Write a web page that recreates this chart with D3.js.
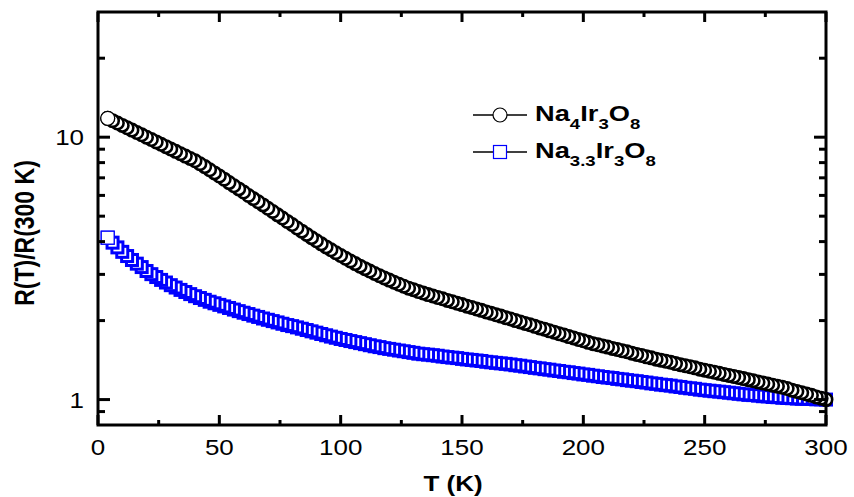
<!DOCTYPE html>
<html>
<head>
<meta charset="utf-8">
<script src="https://cdn.jsdelivr.net/npm/d3@7"></script>
<style>
  body { margin: 0; background: #fff; }
  text { font-family: "Liberation Sans", Arial, sans-serif; fill: #000; }
</style>
</head>
<body>
<div id="chart"></div>
<script>
// temperatures (K) of the read-off points
let temps = [4, 6, 8, 10, 12, 14, 16, 18, 20, 22, 24, 26, 28, 30, 32, 34, 36, 38, 40, 42,
  44, 46, 48, 50, 52, 54, 56, 58, 60, 62, 64, 66, 68, 70, 72, 74, 76, 78, 80, 82,
  84, 86, 88, 90, 92, 94, 96, 98, 100, 102, 104, 106, 108, 110, 112, 114, 116, 118, 120, 122,
  124, 126, 128, 130, 132, 134, 136, 138, 140, 142, 144, 146, 148, 150, 152, 154, 156, 158, 160, 162,
  164, 166, 168, 170, 172, 174, 176, 178, 180, 182, 184, 186, 188, 190, 192, 194, 196, 198, 200, 202,
  204, 206, 208, 210, 212, 214, 216, 218, 220, 222, 224, 226, 228, 230, 232, 234, 236, 238, 240, 242,
  244, 246, 248, 250, 252, 254, 256, 258, 260, 262, 264, 266, 268, 270, 272, 274, 276, 278, 280, 282,
  284, 286, 288, 290, 292, 294, 296, 298, 300];

// R(T)/R(300 K), Na4Ir3O8
let rNa4 = [11.80, 11.56, 11.32, 11.09, 10.86, 10.64, 10.42, 10.21, 10.00, 9.795, 9.594, 9.397, 9.204, 9.016, 8.831, 8.650, 8.472, 8.299, 8.128, 7.925,
  7.727, 7.516, 7.311, 7.112, 6.918, 6.714, 6.531, 6.353, 6.180, 5.998, 5.834, 5.675, 5.521, 5.358, 5.212, 5.058, 4.920, 4.775, 4.645, 4.508,
  4.385, 4.261, 4.142, 4.030, 3.922, 3.819, 3.722, 3.629, 3.540, 3.455, 3.375, 3.298, 3.225, 3.155, 3.089, 3.025, 2.965, 2.908, 2.853, 2.801,
  2.751, 2.704, 2.659, 2.624, 2.582, 2.547, 2.512, 2.483, 2.449, 2.421, 2.388, 2.360, 2.328, 2.301, 2.270, 2.244, 2.213, 2.188, 2.158, 2.133,
  2.104, 2.080, 2.051, 2.028, 2.000, 1.977, 1.950, 1.928, 1.901, 1.875, 1.854, 1.828, 1.807, 1.782, 1.762, 1.738, 1.718, 1.694, 1.675, 1.652,
  1.633, 1.618, 1.600, 1.585, 1.567, 1.552, 1.535, 1.521, 1.503, 1.486, 1.472, 1.455, 1.442, 1.426, 1.413, 1.400, 1.387, 1.371, 1.358, 1.346,
  1.334, 1.321, 1.306, 1.294, 1.282, 1.271, 1.259, 1.247, 1.236, 1.225, 1.213, 1.202, 1.191, 1.180, 1.167, 1.156, 1.146, 1.135, 1.125, 1.114,
  1.102, 1.086, 1.074, 1.062, 1.050, 1.038, 1.023, 1.012, 1.000];

// R(T)/R(300 K), Na3.3Ir3O8
let rNa33 = [4.140, 3.963, 3.802, 3.656, 3.524, 3.404, 3.296, 3.199, 3.090, 3.006, 2.931, 2.858, 2.793, 2.729, 2.673, 2.618, 2.570, 2.523, 2.477, 2.438,
  2.399, 2.360, 2.328, 2.296, 2.265, 2.234, 2.203, 2.173, 2.143, 2.118, 2.089, 2.065, 2.037, 2.014, 1.991, 1.968, 1.945, 1.923, 1.905, 1.884,
  1.862, 1.841, 1.820, 1.799, 1.778, 1.758, 1.738, 1.720, 1.702, 1.687, 1.671, 1.656, 1.641, 1.626, 1.611, 1.596, 1.585, 1.570, 1.560, 1.549,
  1.538, 1.528, 1.517, 1.507, 1.496, 1.489, 1.483, 1.476, 1.469, 1.459, 1.452, 1.445, 1.439, 1.429, 1.422, 1.416, 1.409, 1.403, 1.393, 1.387,
  1.380, 1.374, 1.368, 1.361, 1.352, 1.346, 1.337, 1.330, 1.321, 1.315, 1.306, 1.300, 1.291, 1.285, 1.276, 1.271, 1.262, 1.256, 1.247, 1.242,
  1.233, 1.227, 1.219, 1.213, 1.208, 1.199, 1.194, 1.186, 1.180, 1.175, 1.167, 1.161, 1.153, 1.148, 1.140, 1.135, 1.130, 1.122, 1.117, 1.109,
  1.104, 1.099, 1.091, 1.086, 1.081, 1.076, 1.072, 1.067, 1.062, 1.057, 1.052, 1.047, 1.042, 1.040, 1.035, 1.030, 1.028, 1.023, 1.021, 1.016,
  1.014, 1.012, 1.009, 1.007, 1.007, 1.005, 1.002, 1.002, 1.000];

let xTicks = [0, 50, 100, 150, 200, 250, 300];
let xMinorTicks = [25, 75, 125, 175, 225, 275];
let yTicks = [1, 10];
let yMinorTicks = [0.9, 2, 3, 4, 5, 6, 7, 8, 9, 20];

let width = 854;
let height = 497;
let margin = {top: 12, right: 28, bottom: 72, left: 98};
let stretch = 1.18; // text in the picture is a bit wider than Arial

let svg = d3.select("#chart").append("svg")
  .attr("width", width)
  .attr("height", height);

let x = d3.scaleLinear().domain([0, 300]).range([margin.left, width - margin.right]);
let y = d3.scaleLog().domain([0.8, 30]).range([height - margin.bottom, margin.top]);

let x0 = x.range()[0], x1 = x.range()[1];
let y0 = y.range()[0], y1 = y.range()[1];

// data points, drawn from 300 K down so low-T points sit on top
let blueData = temps.map((t, i) => ({t: t, v: rNa33[i]})).reverse();
let blackData = temps.map((t, i) => ({t: t, v: rNa4[i]})).reverse();

// the measured points are packed much tighter than ours, so the outlines
// are drawn heavier to get the same dark band
let sq = 11;
let rad = 6.2;

svg.append("g").selectAll("rect")
  .data(blueData)
  .enter()
  .append("rect")
  .attr("x", d => x(d.t) - sq / 2)
  .attr("y", d => y(d.v) - sq / 2)
  .attr("width", sq)
  .attr("height", sq)
  .attr("fill", "#fff")
  .attr("stroke", "#0000ff")
  .attr("stroke-width", 3);

svg.append("g").selectAll("circle")
  .data(blackData)
  .enter()
  .append("circle")
  .attr("cx", d => x(d.t))
  .attr("cy", d => y(d.v))
  .attr("r", rad)
  .attr("fill", "#fff")
  .attr("stroke", "#000")
  .attr("stroke-width", 2.6);

// the lowest-T markers are whole in the picture
svg.append("rect")
  .attr("x", x(temps[0]) - 6.5).attr("y", y(rNa33[0]) - 6.5)
  .attr("width", 13).attr("height", 13)
  .attr("fill", "#fff").attr("stroke", "#0000ff").attr("stroke-width", 1.3);
svg.append("circle")
  .attr("cx", x(temps[0])).attr("cy", y(rNa4[0])).attr("r", 7)
  .attr("fill", "#fff").attr("stroke", "#000").attr("stroke-width", 1.3);

// frame
svg.append("rect")
  .attr("x", x0)
  .attr("y", y1)
  .attr("width", x1 - x0)
  .attr("height", y0 - y1)
  .attr("fill", "none")
  .attr("stroke", "#000")
  .attr("stroke-width", 3);

// ticks, all pointing inward
let ticks = svg.append("g").attr("stroke", "#000");

function xTickLines(vals, len, sw) {
  vals.forEach(v => {
    ticks.append("line").attr("x1", x(v)).attr("x2", x(v)).attr("y1", y0).attr("y2", y0 - len).attr("stroke-width", sw);
    ticks.append("line").attr("x1", x(v)).attr("x2", x(v)).attr("y1", y1).attr("y2", y1 + len).attr("stroke-width", sw);
  });
}
function yTickLines(vals, len, sw) {
  vals.forEach(v => {
    ticks.append("line").attr("x1", x0).attr("x2", x0 + len).attr("y1", y(v)).attr("y2", y(v)).attr("stroke-width", sw);
    ticks.append("line").attr("x1", x1).attr("x2", x1 - len).attr("y1", y(v)).attr("y2", y(v)).attr("stroke-width", sw);
  });
}
xTickLines(xTicks, 10, 3);
xTickLines(xMinorTicks, 5, 3);
yTickLines(yTicks, 12, 3);
yTickLines(yMinorTicks, 7, 3);

function placeText(sel, px, py, sx) {
  return sel.attr("transform", `translate(${px},${py}) scale(${sx || stretch},1)`);
}

// tick labels
xTicks.forEach(v => {
  placeText(svg.append("text"), x(v), y0 + 30)
    .attr("text-anchor", "middle")
    .attr("font-size", 22)
    .text(v);
});
yTicks.forEach(v => {
  placeText(svg.append("text"), x0 - 14, y(v) + 8)
    .attr("text-anchor", "end")
    .attr("font-size", 22)
    .text(v);
});

// axis titles
placeText(svg.append("text"), (x0 + x1) / 2 - 9, 491)
  .attr("text-anchor", "middle")
  .attr("font-size", 22)
  .attr("font-weight", "bold")
  .text("T (K)");

// rotated: the picture's wider glyphs run across the text line here
svg.append("text")
  .attr("transform", `translate(34,233) rotate(-90) scale(1,${stretch})`)
  .attr("text-anchor", "middle")
  .attr("font-size", 23)
  .attr("font-weight", "bold")
  .text("R(T)/R(300 K)");

// legend
let legendRows = [
  {y: 115, parts: [["Na", 0], ["4", 1], ["Ir", 0], ["3", 1], ["O", 0], ["8", 1]], shape: "circle"},
  {y: 152, parts: [["Na", 0], ["3.3", 1], ["Ir", 0], ["3", 1], ["O", 0], ["8", 1]], shape: "square"}
];

legendRows.forEach(row => {
  let g = svg.append("g");
  g.append("line")
    .attr("x1", 473).attr("x2", 527)
    .attr("y1", row.y).attr("y2", row.y)
    .attr("stroke", "#000").attr("stroke-width", 1.5);
  if (row.shape === "circle") {
    g.append("circle").attr("cx", 500).attr("cy", row.y).attr("r", 7)
      .attr("fill", "#fff").attr("stroke", "#000").attr("stroke-width", 1.2);
  } else {
    g.append("rect").attr("x", 500 - 6.5).attr("y", row.y - 6.5)
      .attr("width", 13).attr("height", 13)
      .attr("fill", "#fff").attr("stroke", "#0000ff").attr("stroke-width", 1.2);
  }
  let t = placeText(g.append("text"), 535, row.y + 6, 1.24)
    .attr("font-size", 22)
    .attr("font-weight", "bold");
  let down = false;
  row.parts.forEach(p => {
    let sub = p[1] === 1;
    let dy = 0;
    if (sub && !down) { dy = 8; down = true; }
    if (!sub && down) { dy = -8; down = false; }
    t.append("tspan")
      .attr("dy", dy)
      .attr("font-size", sub ? 15 : 22)
      .text(p[0]);
  });
});
</script>
</body>
</html>
